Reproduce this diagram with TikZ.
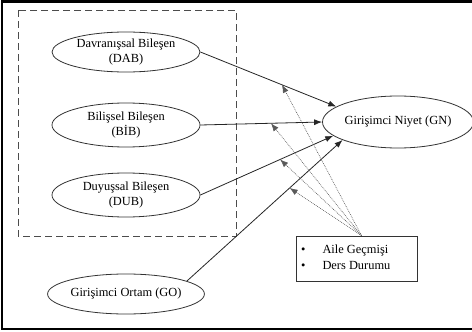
\documentclass[tikz,border=0pt]{standalone}
\usepackage{fontspec}
\setmainfont{Liberation Serif}
\usetikzlibrary{shapes.geometric,arrows.meta,calc}
\begin{document}
\begin{tikzpicture}[x=1pt,y=-1pt,
  ell/.style={ellipse,draw=black!80,line width=0.8pt,inner sep=0pt,align=center,font=\fontsize{12.4}{15}\selectfont},
  solidarr/.style={draw=black!85,line width=0.8pt,-{Latex[length=8pt,width=6pt]}},
  dotarr/.style={draw=black!65,line width=0.6pt,dash pattern=on 0.8pt off 1pt,-{Latex[length=8pt,width=6pt]}},
  boxnode/.style={draw=black!80,line width=0.9pt,minimum width=121pt,minimum height=45pt,inner sep=0pt},
  itemtext/.style={anchor=west,font=\fontsize{12.4}{14}\selectfont,inner sep=0pt}]
\useasboundingbox (0,0) rectangle (472,332);
\fill[white] (0,0) rectangle (472,332);
% outer frame (right side lies outside the picture)
\draw[line width=2.2pt] (2,1.5) rectangle (480,329);
% dashed group
\draw[black!70,line width=1pt,dash pattern=on 7pt off 4pt] (18,10) rectangle (236,236);
% nodes
\node[ell,minimum width=148pt,minimum height=40pt] (DAB) at (126,52) {Davranışsal Bileşen\\(DAB)};
\node[ell,minimum width=148pt,minimum height=44pt] (BIB) at (126,125) {Bilişsel Bileşen\\(BİB)};
\node[ell,minimum width=148pt,minimum height=44pt] (DUB) at (126,195) {Duyuşsal Bileşen\\(DUB)};
\node[ell,minimum width=148pt,minimum height=40pt] (GO) at (126,294) {Girişimci Ortam (GO)};
\node[ell,minimum width=145pt,minimum height=52pt] (GN) at (398,122) {Girişimci Niyet (GN)};
\node[boxnode] (box) at (356.5,258.5) {};
\node[itemtext] (b1) at (301,251) {\textbullet\hspace{17pt}Aile Geçmişi};
\node[itemtext] (b2) at (301,265) {\textbullet\hspace{17pt}Ders Durumu};
% solid arrows
\draw[solidarr] (DAB.east) -- (GN.166) coordinate[pos=0.6] (t1);
\draw[solidarr] (BIB.east) -- (GN.180) coordinate[pos=0.58] (t2);
\draw[solidarr] (DUB.east) -- (GN.192) coordinate[pos=0.6] (t3);
\draw[solidarr] (GO.12) -- (GN.198) coordinate[pos=0.66] (t4);
% dotted arrows
\coordinate (src) at ($(box.north)+(5,0)$);
\draw[dotarr] (src) -- (t1);
\draw[dotarr] (src) -- (t2);
\draw[dotarr] (src) -- (t3);
\draw[dotarr] (src) -- (t4);
\end{tikzpicture}
\end{document}
